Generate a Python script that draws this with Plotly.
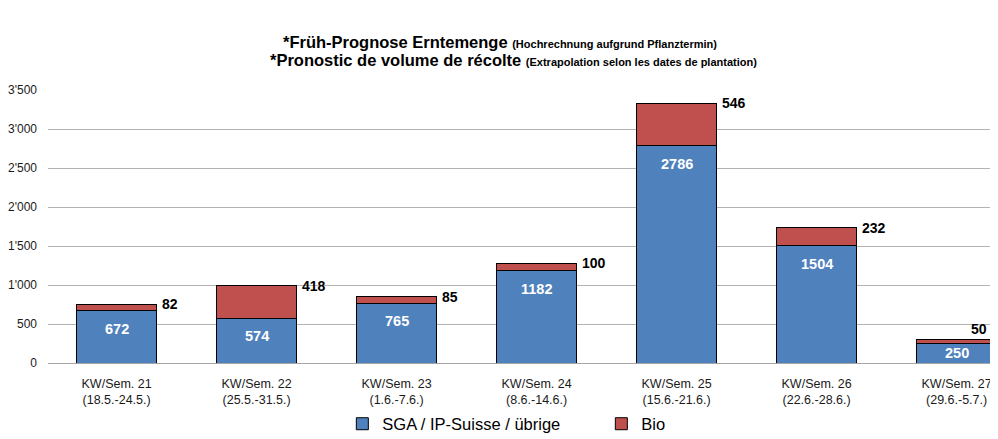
import plotly.graph_objects as go

categories = ["KW/Sem. 21<br>(18.5.-24.5.)", "KW/Sem. 22<br>(25.5.-31.5.)", "KW/Sem. 23<br>(1.6.-7.6.)",
              "KW/Sem. 24<br>(8.6.-14.6.)", "KW/Sem. 25<br>(15.6.-21.6.)", "KW/Sem. 26<br>(22.6.-28.6.)",
              "KW/Sem. 27<br>(29.6.-5.7.)"]
sga = [672, 574, 765, 1182, 2786, 1504, 250]
bio = [82, 418, 85, 100, 546, 232, 50]
ytick_vals = [0, 500, 1000, 1500, 2000, 2500, 3000, 3500]
ytick_text = ["0", "500", "1'000", "1'500", "2'000", "2'500", "3'000", "3'500"]
title_line1 = ("*Früh-Prognose Erntemenge", "(Hochrechnung aufgrund Pflanztermin)")
title_line2 = ("*Pronostic de volume de récolte", "(Extrapolation selon les dates de plantation)")

FONT = "Liberation Sans, Arial, sans-serif"
xs = list(range(len(categories)))
bw = 0.57

# page body has an 8px margin; layout expressed relative to the figure
W, H = 998, 439
ML, MR, MT, MB = 40, 0, 82, 84
plot_h = H - MT - MB
plot_w = W - ML - MR
PX_PER_CAT = 140
x0 = -0.49
x1 = x0 + plot_w / PX_PER_CAT
visible_right = x0 + (W - 16 - ML) / PX_PER_CAT  # last visible pixel column in data units

fig = go.Figure()
fig.add_bar(x=xs, y=sga, name="SGA / IP-Suisse / übrige", width=bw,
            marker=dict(color="#4F81BD", line=dict(color="#000000", width=1)))
fig.add_bar(x=xs, y=bio, name="Bio", width=bw,
            marker=dict(color="#C0504D", line=dict(color="#000000", width=1)))

px_per_unit = plot_h / 3500
for i, v in enumerate(sga):
    half = v * px_per_unit / 2
    fig.add_annotation(x=i, y=v, text=f"<b>{v}</b>", showarrow=False, yanchor="middle",
                       yshift=-min(18, half), font=dict(family=FONT, size=14.5, color="white"))
for i, (a, b) in enumerate(zip(sga, bio)):
    xr = i + bw / 2
    lbl_font = dict(family=FONT, size=14, color="black")
    if xr + 22 / PX_PER_CAT < visible_right:
        fig.add_annotation(x=xr, y=a + b, text=f"<b>{b}</b>", showarrow=False,
                           xanchor="left", yanchor="middle", xshift=3, font=lbl_font)
    else:
        # keep the label inside the visible area, just above the bar top
        fig.add_annotation(x=visible_right, y=a + b, text=f"<b>{b}</b>", showarrow=False,
                           xanchor="right", yanchor="bottom", xshift=-1, yshift=1, font=lbl_font)

def ypaper(yfig):
    return (H - MB - yfig) / plot_h

def xpaper(xfig):
    return (xfig - ML) / plot_w

for (main, small), xc, yc in [(title_line1, 492, 34), (title_line2, 505, 52)]:
    fig.add_annotation(xref="paper", yref="paper", x=xpaper(xc), y=ypaper(yc),
                       xanchor="center", yanchor="middle", showarrow=False,
                       text=f"<b>{main} <span style='font-size:11px'>{small}</span></b>",
                       font=dict(family=FONT, size=16.5, color="black"))

fig.update_layout(
    width=W, height=H, barmode="stack",
    margin=dict(l=ML, r=MR, t=MT, b=MB, autoexpand=False),
    paper_bgcolor="white", plot_bgcolor="white",
    font=dict(family=FONT, size=12, color="black"),
    showlegend=True,
    legend=dict(orientation="h", x=0.335, xref="container", xanchor="left",
                y=1 - 416 / H, yref="container", yanchor="middle",
                font=dict(family=FONT, size=16.5, color="black"), entrywidth=214,
                traceorder="normal"),
)
fig.update_xaxes(tickvals=xs, ticktext=categories, range=[x0, x1], showgrid=False,
                 showline=True, linecolor="#a6a6a6", ticks="", ticklabelstandoff=9,
                 automargin=False, tickfont=dict(size=12.5, color="#1a1a1a"))
fig.update_yaxes(range=[0, 3500], tickvals=ytick_vals, ticktext=ytick_text, showgrid=True,
                 gridcolor="#b3b3b3", zeroline=False, showline=False, ticks="",
                 ticklabelstandoff=10, automargin=False, tickfont=dict(size=12, color="#1a1a1a"))

fig.write_html("out.html")
